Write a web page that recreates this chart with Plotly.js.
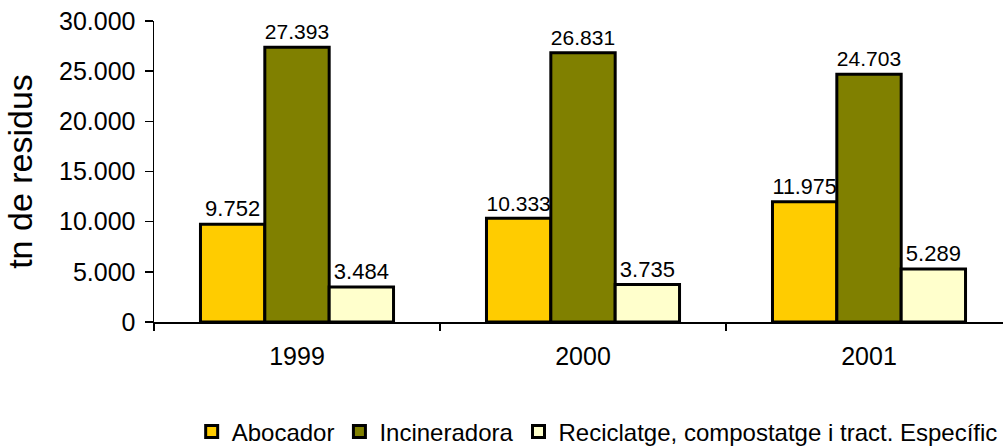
<!DOCTYPE html>
<html>
<head>
<meta charset="utf-8">
<script src="https://cdn.plot.ly/plotly-3.0.1.min.js"></script>
<style>html,body{margin:0;padding:0;background:#fff;}#chart{width:1003px;height:447px;}</style>
</head>
<body>
<div id="chart"></div>
<script>
const years = ["1999", "2000", "2001"];
const abocador = [9752, 10333, 11975];
const incineradora = [27393, 26831, 24703];
const reciclatge = [3484, 3735, 5289];
const seriesNames = ["Abocador", "Incineradora", "Reciclatge, compostatge i tract. Específic"];
const seriesColors = ["#FFCC00", "#808000", "#FFFFCC"];
const yTickValues = [0, 5000, 10000, 15000, 20000, 25000, 30000];

const FONT = "Arial, 'Liberation Sans', sans-serif";
const seriesValues = [abocador, incineradora, reciclatge];
const traces = seriesValues.map((vals, i) => ({
  type: "bar",
  name: seriesNames[i],
  x: years,
  y: vals,
  marker: {color: seriesColors[i], line: {color: "#000", width: 3}},
  texttemplate: "%{y:,}",
  textposition: "outside",
  textfont: {family: FONT, size: 22, color: "#000"},
  cliponaxis: false,
  hoverinfo: "none"
}));

const layout = {
  width: 1003,
  height: 447,
  margin: {l: 154, r: 0, t: 21, b: 125},
  paper_bgcolor: "#fff",
  plot_bgcolor: "#fff",
  separators: ",.",
  barmode: "group",
  bargap: 0.325,
  bargroupgap: 0,
  font: {family: FONT, color: "#000"},
  showlegend: true,
  legend: {
    orientation: "h",
    xref: "paper", x: 0.522, xanchor: "center",
    yref: "container", y: 0.034, yanchor: "middle",
    font: {family: FONT, size: 24, color: "#000"},
    itemwidth: 30,
    tracegroupgap: 0
  },
  xaxis: {
    type: "category",
    range: [-0.5, -0.5 + 849 / 286],
    showline: true, linecolor: "#000", linewidth: 1.5,
    ticks: "outside", tickson: "boundaries", ticklen: 7, tickcolor: "#000", tickwidth: 1.5,
    tickfont: {family: FONT, size: 25, color: "#000"},
    ticklabelstandoff: 11,
    showgrid: false, zeroline: false, fixedrange: true
  },
  yaxis: {
    range: [0, 30000],
    tickvals: yTickValues,
    tickformat: ",d",
    showline: true, linecolor: "#000", linewidth: 1.5,
    ticks: "outside", ticklen: 8, tickcolor: "#000", tickwidth: 1.5,
    tickfont: {family: FONT, size: 25, color: "#000"},
    ticklabelstandoff: 4,
    showgrid: false, zeroline: false, fixedrange: true,
    title: {text: "tn de residus", font: {family: FONT, size: 34, color: "#000"}, standoff: 16}
  }
};

Plotly.newPlot("chart", traces, layout, {displayModeBar: false, staticPlot: true});
</script>
</body>
</html>
